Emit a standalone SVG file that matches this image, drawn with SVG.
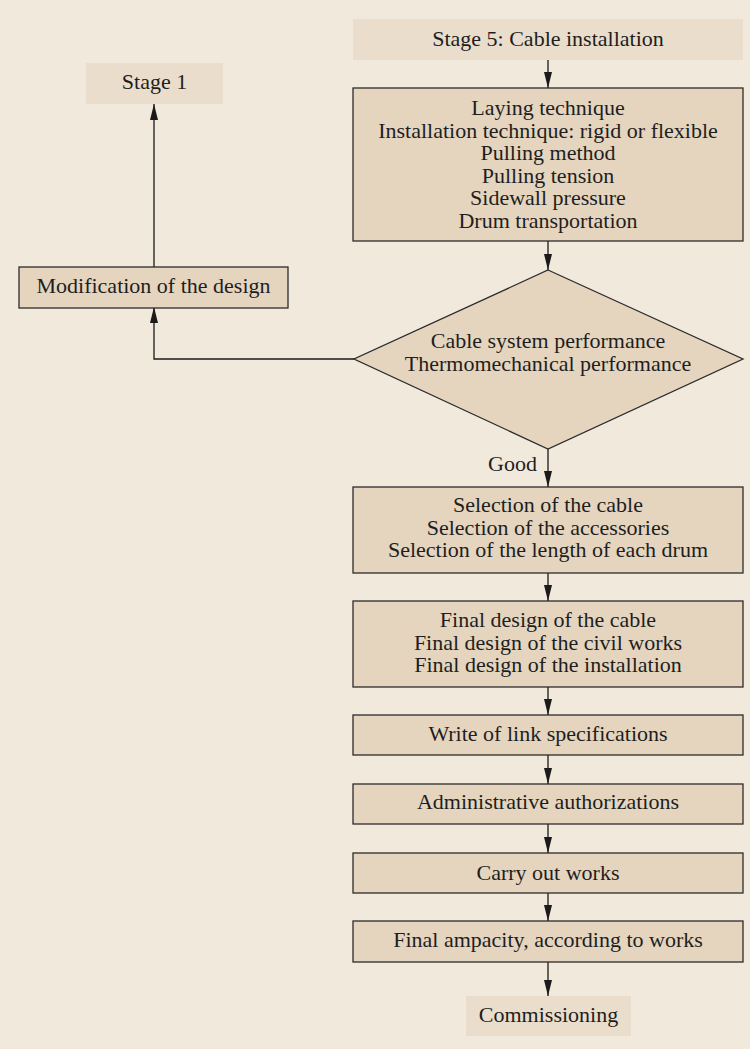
<svg xmlns="http://www.w3.org/2000/svg" width="750" height="1049" viewBox="0 0 750 1049">
  <style>
    .bg { fill: #f2e9dd; }
    .box { fill: #e5d5be; stroke: #2b2b2b; stroke-width: 1.3; }
    .term { fill: #eaddcb; stroke: none; }
    .lbl { font-family: "Liberation Serif", "Times New Roman", serif; font-size: 22px; fill: #1e1e1e; text-anchor: middle; }
    .edge { fill: none; stroke: #1a1a1a; stroke-width: 1.3; marker-end: url(#arrow); }
  </style>
  <defs>
    <marker id="arrow" markerUnits="userSpaceOnUse" markerWidth="16" markerHeight="8" refX="16" refY="4" orient="auto">
      <path d="M0,0 L16,4 L0,8 Z" fill="#1a1a1a"/>
    </marker>
  </defs>

  <rect class="bg" x="0" y="0" width="750" height="1049"/>

  <g id="connectors">
    <line class="edge" x1="548" y1="60" x2="548" y2="88"/>
    <line class="edge" x1="548" y1="241" x2="548" y2="270"/>
    <line class="edge" x1="548" y1="449" x2="548" y2="487"/>
    <line class="edge" x1="548" y1="573" x2="548" y2="601"/>
    <line class="edge" x1="548" y1="687" x2="548" y2="715"/>
    <line class="edge" x1="548" y1="755" x2="548" y2="784"/>
    <line class="edge" x1="548" y1="824" x2="548" y2="853"/>
    <line class="edge" x1="548" y1="893" x2="548" y2="921"/>
    <line class="edge" x1="548" y1="962" x2="548" y2="996"/>
    <polyline class="edge" points="354,359 154,359 154,307"/>
    <line class="edge" x1="154" y1="267" x2="154" y2="104"/>
    <text class="lbl" x="537" y="471" style="text-anchor:end">Good</text>
  </g>

  <g id="stage5">
    <rect class="term" x="353" y="19" width="390" height="41"/>
    <text class="lbl" x="548" y="46">Stage 5: Cable installation</text>
  </g>

  <g id="stage1">
    <rect class="term" x="86" y="63" width="137" height="41"/>
    <text class="lbl" x="154.5" y="89">Stage 1</text>
  </g>

  <g id="installation">
    <rect class="box" x="353" y="88" width="390" height="153"/>
    <text class="lbl" x="548" y="115">Laying technique</text>
    <text class="lbl" x="548" y="137.5">Installation technique: rigid or flexible</text>
    <text class="lbl" x="548" y="160">Pulling method</text>
    <text class="lbl" x="548" y="182.5">Pulling tension</text>
    <text class="lbl" x="548" y="205">Sidewall pressure</text>
    <text class="lbl" x="548" y="227.5">Drum transportation</text>
  </g>

  <g id="modification">
    <rect class="box" x="19" y="267" width="269" height="41"/>
    <text class="lbl" x="153.5" y="293">Modification of the design</text>
  </g>

  <g id="performance">
    <polygon class="box" points="548,270 743,359 548,449 354,359"/>
    <text class="lbl" x="548" y="348">Cable system performance</text>
    <text class="lbl" x="548" y="371">Thermomechanical performance</text>
  </g>

  <g id="selection">
    <rect class="box" x="353" y="487" width="390" height="86"/>
    <text class="lbl" x="548" y="512">Selection of the cable</text>
    <text class="lbl" x="548" y="534.5">Selection of the accessories</text>
    <text class="lbl" x="548" y="557">Selection of the length of each drum</text>
  </g>

  <g id="final-design">
    <rect class="box" x="353" y="601" width="390" height="86"/>
    <text class="lbl" x="548" y="627">Final design of the cable</text>
    <text class="lbl" x="548" y="649.5">Final design of the civil works</text>
    <text class="lbl" x="548" y="672">Final design of the installation</text>
  </g>

  <g id="specifications">
    <rect class="box" x="353" y="715" width="390" height="40"/>
    <text class="lbl" x="548" y="741">Write of link specifications</text>
  </g>

  <g id="authorizations">
    <rect class="box" x="353" y="784" width="390" height="40"/>
    <text class="lbl" x="548" y="809">Administrative authorizations</text>
  </g>

  <g id="works">
    <rect class="box" x="353" y="853" width="390" height="40"/>
    <text class="lbl" x="548" y="880">Carry out works</text>
  </g>

  <g id="ampacity">
    <rect class="box" x="353" y="921" width="390" height="41"/>
    <text class="lbl" x="548" y="947">Final ampacity, according to works</text>
  </g>

  <g id="commissioning">
    <rect class="term" x="466" y="996" width="165" height="40"/>
    <text class="lbl" x="548.5" y="1022">Commissioning</text>
  </g>
</svg>
